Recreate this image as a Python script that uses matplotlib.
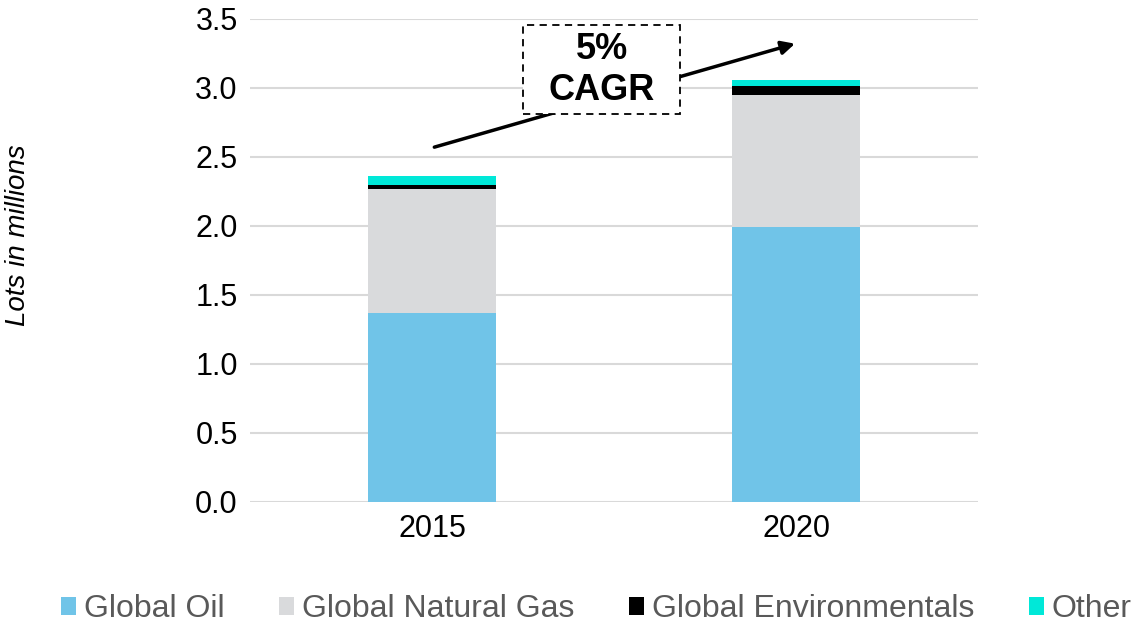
import numpy as np
import matplotlib.pyplot as plt
from matplotlib.patches import Rectangle

plt.rcParams['font.family'] = ['Liberation Sans', 'DejaVu Sans']

# data (lots in millions)
years = ['2015', '2020']
global_oil = [1.37, 1.99]
global_gas = [0.90, 0.96]
global_env = [0.025, 0.063]
other = [0.065, 0.043]

series = [
    ('Global Oil', global_oil, '#70c4e8'),
    ('Global Natural Gas', global_gas, '#d9dadc'),
    ('Global Environmentals', global_env, '#000000'),
    ('Other', other, '#00e8d8'),
]

fig = plt.figure(figsize=(11.32, 6.28), dpi=100)
ax = fig.add_axes([0.221, 0.201, 0.643, 0.769])

x = np.arange(len(years))
bottom = np.zeros(len(years))
for name, vals, color in series:
    ax.bar(x, vals, width=0.35, bottom=bottom, color=color, label=name, zorder=2)
    bottom += np.array(vals)

ax.set_xlim(-0.5, 1.5)
ax.set_ylim(0, 3.5)
ticks = np.arange(0, 3.51, 0.5)
ax.set_yticks(ticks)
ax.set_yticklabels([f'{v:.1f}' for v in ticks])
ax.set_xticks(x)
ax.set_xticklabels(years)
ax.tick_params(axis='both', length=0, labelsize=22, pad=9)
ax.grid(axis='y', color='#d9d9d9', linewidth=1.5, zorder=0)
for s in ax.spines.values():
    s.set_visible(False)

ax.set_ylabel('Lots in millions', fontsize=20, style='italic', color='black')
ax.yaxis.set_label_coords(-0.301, 0.551)

# CAGR arrow with dashed box
ax.annotate('', xy=(0.997, 3.32), xytext=(0.006, 2.57),
            arrowprops=dict(arrowstyle='-|>,head_length=0.8,head_width=0.4',
                            color='black', lw=2.5, shrinkA=0, shrinkB=0),
            zorder=3)
ax.add_patch(Rectangle((0.251, 2.807), 0.43, 0.648, facecolor='white',
                       edgecolor='black', linestyle=(0, (4, 3)), linewidth=1.3,
                       zorder=4, clip_on=False))
ax.text(0.466, 3.13, '5%\nCAGR', ha='center', va='center', fontsize=26,
        fontweight='bold', linespacing=1.2, zorder=5)

fig.legend(loc='center', bbox_to_anchor=(0.527, 0.03), ncol=4,
           frameon=False, fontsize=23, handlelength=0.47, handleheight=0.47,
           handletextpad=0.25, columnspacing=1.7, labelcolor='#595959',
           borderpad=0, borderaxespad=0)

fig.savefig('out.png', dpi=100)
